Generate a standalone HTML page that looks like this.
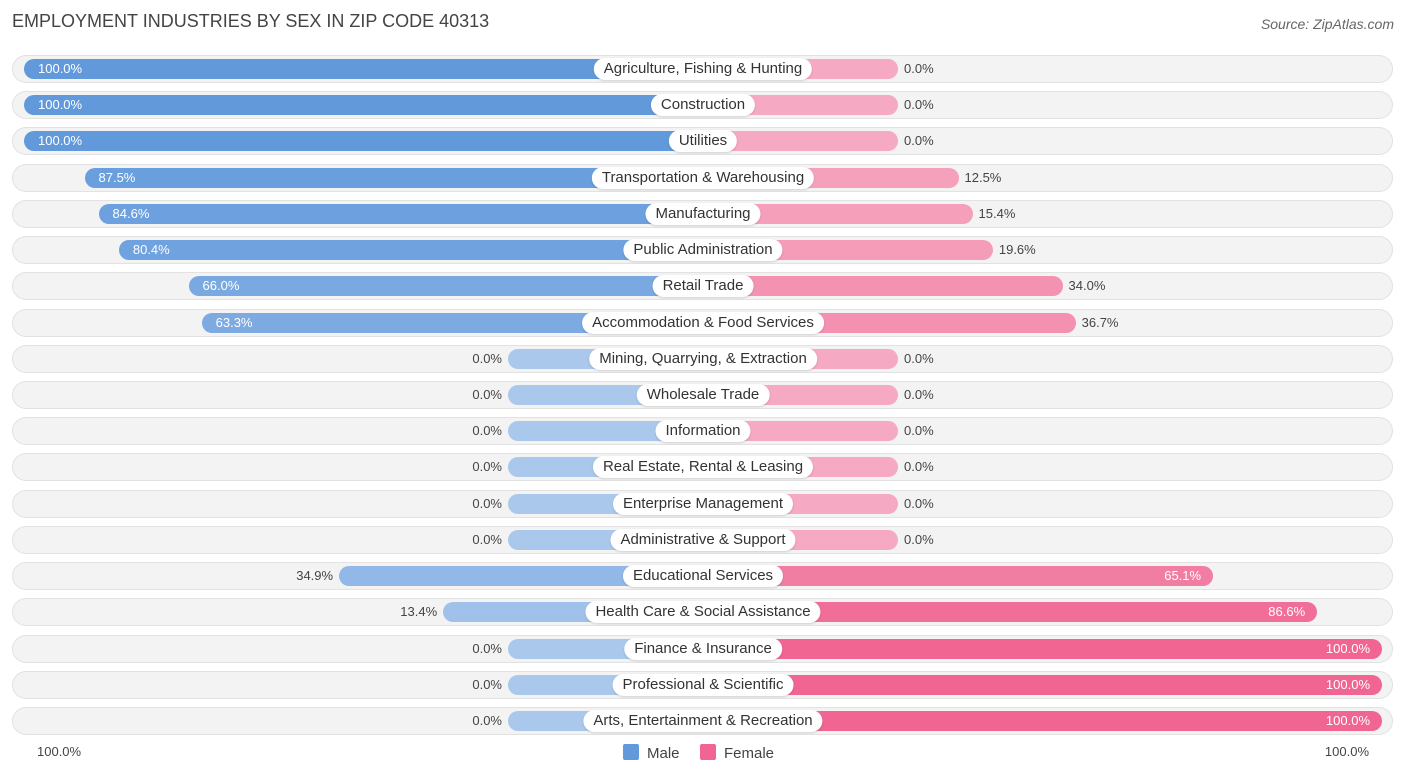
<!DOCTYPE html>
<html><head><meta charset="utf-8"><style>
body{margin:0;width:1406px;height:776px;background:#fff;font-family:"Liberation Sans",sans-serif;position:relative;overflow:hidden}
.t{position:absolute;left:12px;top:11px;font-size:18px;color:#444}
.src{position:absolute;right:12px;top:16px;font-size:14px;color:#666;font-style:italic}
.row{position:absolute;left:12px;width:1381px;height:28px;border-radius:14px;background:#f3f3f3;box-shadow:inset 0 0 0 1px #e2e2e2}
.bar{position:absolute;height:20px;border-radius:10px}
.lab{position:absolute;height:22px;line-height:22px;padding:0 10px;background:#fff;border-radius:11px;font-size:15px;color:#333;transform:translateX(-50%);white-space:nowrap;box-shadow:0 1px 2px rgba(0,0,0,.15)}
.v{position:absolute;font-size:13px;line-height:20px}
.ax{position:absolute;top:744px;font-size:13px;color:#444}
.lg{position:absolute;top:744px;font-size:15px;color:#444}
.sw{display:inline-block;width:16px;height:16px;border-radius:2px;vertical-align:-2px;margin-right:8px}
</style></head><body>
<div class="t">EMPLOYMENT INDUSTRIES BY SEX IN ZIP CODE 40313</div>
<div class="src">Source: ZipAtlas.com</div>
<div id="chart"></div>
<div class="ax" style="left:37px">100.0%</div>
<div class="ax" style="right:37px">100.0%</div>
<div class="lg" style="left:623px"><span class="sw" style="background:#6199db"></span>Male</div>
<div class="lg" style="left:700px"><span class="sw" style="background:#f06592"></span>Female</div>
<script>
const categories=["Agriculture, Fishing & Hunting","Construction","Utilities","Transportation & Warehousing","Manufacturing","Public Administration","Retail Trade","Accommodation & Food Services","Mining, Quarrying, & Extraction","Wholesale Trade","Information","Real Estate, Rental & Leasing","Enterprise Management","Administrative & Support","Educational Services","Health Care & Social Assistance","Finance & Insurance","Professional & Scientific","Arts, Entertainment & Recreation"];
const maleValues=[100,100,100,87.5,84.6,80.4,66.0,63.3,0,0,0,0,0,0,34.9,13.4,0,0,0];
const femaleValues=[0,0,0,12.5,15.4,19.6,34.0,36.7,0,0,0,0,0,0,65.1,86.6,100,100,100];
const C=703,BASE=195,SC=4.84,Y0=69,DY=36.22;
function mix(a,b,t){return 'rgb('+a.map((x,i)=>Math.round(b[i]+(x-b[i])*t)).join(',')+')';}
const ch=document.getElementById('chart');
categories.forEach((c,i)=>{
 const y=Y0+i*DY;
 const r=document.createElement('div');r.className='row';r.style.top=(y-14)+'px';
 
 ch.appendChild(r);
 const m=maleValues[i],f=femaleValues[i];
 const mw=BASE+m*SC,fw=BASE+f*SC;
 const mb=document.createElement('div');mb.className='bar';
 mb.style.left=(C-mw)+'px';mb.style.width=mw+'px';mb.style.top=(y-10)+'px';
 mb.style.background=mix([97,153,219],[170,200,236],m/100);
 
 ch.appendChild(mb);
 const fb=document.createElement('div');fb.className='bar';
 fb.style.left=C+'px';fb.style.width=fw+'px';fb.style.top=(y-10)+'px';
 fb.style.background=mix([240,101,146],[246,169,194],f/100);
 
 ch.appendChild(fb);
 const mv=document.createElement('div');mv.className='v';mv.textContent=m.toFixed(1)+'%';mv.style.top=(y-10)+'px';
 if(m>50){mv.style.left=(C-mw+14)+'px';mv.style.color='#fff';}else{mv.style.right=(1406-(C-mw)+6)+'px';mv.style.color='#444';}
 
 ch.appendChild(mv);
 const fv=document.createElement('div');fv.className='v';fv.textContent=f.toFixed(1)+'%';fv.style.top=(y-10)+'px';
 if(f>50){fv.style.right=(1406-(C+fw)+12)+'px';fv.style.color='#fff';}else{fv.style.left=(C+fw+6)+'px';fv.style.color='#444';}
 
 ch.appendChild(fv);
 const l=document.createElement('div');l.className='lab';l.textContent=c;l.style.left=C+'px';l.style.top=(y-11)+'px';
 
 ch.appendChild(l);
});
</script>
</body></html>
